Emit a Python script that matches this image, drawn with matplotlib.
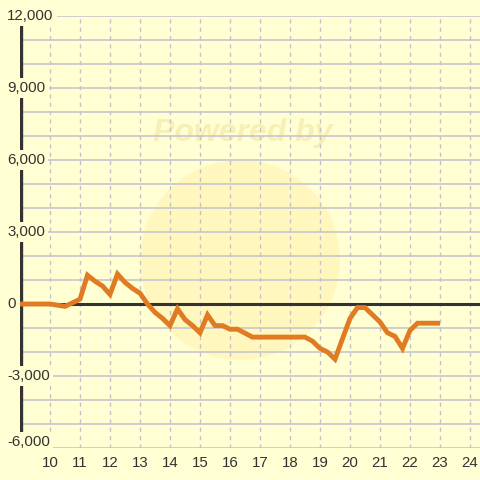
import matplotlib
matplotlib.use("Agg")
import matplotlib.pyplot as plt
from matplotlib.patches import Ellipse
from matplotlib.transforms import blended_transform_factory

hours = [9, 10, 10.5, 11, 11.25, 11.5, 11.75, 12, 12.25, 12.5, 12.75, 13, 13.25,
         13.5, 13.75, 14, 14.25, 14.5, 14.75, 15, 15.25, 15.5, 15.75, 16, 16.25,
         16.75, 18.5, 18.75, 19, 19.25, 19.5, 19.75, 20, 20.25, 20.5, 20.75, 21,
         21.25, 21.5, 21.75, 22, 22.25, 23]
values = [0, 0, -100, 200, 1200, 950, 750, 400, 1250, 900, 650, 450, 0,
          -350, -600, -900, -200, -650, -900, -1200, -450, -900, -900, -1050, -1050,
          -1380, -1380, -1550, -1850, -2000, -2300, -1450, -600, -150, -150, -450, -750,
          -1200, -1350, -1850, -1100, -800, -800]

x_ticks = list(range(10, 25))
y_ticks = [-6000, -3000, 0, 3000, 6000, 9000, 12000]
y_labels = ["-6,000", "-3,000", "0", "3,000", "6,000", "9,000", "12,000"]

BG = "#FFFFD3"
W = H = 480
fig = plt.figure(figsize=(4.8, 4.8), dpi=100, facecolor=BG)
ax = fig.add_axes([20 / W, 32 / H, 460 / W, 432 / H])
ax.set_facecolor(BG)
ax.set_xlim(9, 9 + 460 / 30)
ax.set_ylim(-6000, 12000)
for s in ax.spines.values():
    s.set_visible(False)

# faint watermark (under the grid)
ax.add_patch(Ellipse((240 / W, 1 - 260 / H), 200 / W, 200 / H,
                     transform=fig.transFigure, facecolor="#FFF5B5",
                     edgecolor="none", alpha=0.7, zorder=0.5, clip_on=False))
ax.text(243 / W, 1 - 133 / H, "Powered by", ha="center", va="center",
        transform=fig.transFigure, fontsize=23, fontweight="bold", style="italic",
        color="#F8EFB6", family="Liberation Sans", zorder=0.6)

# grid
for yv in range(-6000, 12001, 1000):
    ax.axhline(yv, color="#C6C6CC", lw=1.2, zorder=1)
for xv in x_ticks:
    ax.axvline(xv, color="#C4C4C8", lw=1.0, ls=(0, (3, 3)), zorder=1)

# axes lines
ax.axvline(9 + 0.5 / 30, color="#333333", lw=2.4, zorder=2)
ax.axhline(0, color="#333333", lw=2.2, zorder=2)

# data line
ax.plot(hours, values, color="#E07B24", lw=3.5, zorder=5,
        solid_joinstyle="miter", solid_capstyle="butt")

# y labels with background boxes
trans = blended_transform_factory(fig.transFigure, ax.transData)
for yv, lab in zip(y_ticks, y_labels):
    ypos = -5750 if yv == -6000 else yv
    ax.text(7 / W, ypos, lab, transform=trans, ha="left", va="center",
            fontsize=10.8, color="#333333", family="Liberation Sans", zorder=4,
            bbox=dict(facecolor=BG, edgecolor="none", pad=2.5), clip_on=False)

ax.set_yticks([])
ax.set_xticks(x_ticks)
ax.set_xticklabels([str(v) for v in x_ticks], fontsize=10.8, color="#333333",
                   family="Liberation Sans")
ax.tick_params(axis="x", length=0, pad=6)

fig.savefig("out.png", dpi=100, facecolor=BG)
